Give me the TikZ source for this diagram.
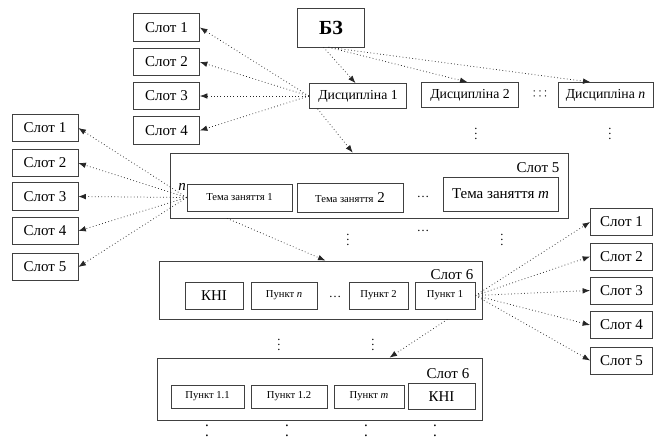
\documentclass[tikz,border=0pt]{standalone}
\usepackage{fontspec}
\setmainfont{Liberation Serif}
\usetikzlibrary{arrows.meta}

\begin{document}
\begin{tikzpicture}[x=0.8pt, y=-0.8pt,
    box/.style={draw=black!75, line width=0.6pt, inner sep=1pt, font=\fontsize{12}{14}\selectfont},
    slot/.style={box, minimum width=52.8pt, minimum height=22pt},
    disc/.style={box, minimum width=78pt, minimum height=20pt, font=\fontsize{11}{13}\selectfont},
    small/.style={font=\fontsize{8.5}{10}\selectfont},
    frame/.style={draw=black!75, line width=0.6pt},
    lbl/.style={inner sep=0pt, font=\fontsize{12}{14}\selectfont},
    colon/.style={inner sep=0pt, align=center, font=\fontsize{12}{14}\selectfont},
    arr/.style={draw=black!85, line width=0.6pt, dotted, -{Latex[length=6pt,width=4.5pt]}}]
    \useasboundingbox (0,0) rectangle (654,440);

    \node[slot] (s1) at (166.5,27.5) {Слот 1};
    \node[slot] (s2) at (166.5,62) {Слот 2};
    \node[slot] (s3) at (166.5,96) {Слот 3};
    \node[slot] (s4) at (166.5,130.5) {Слот 4};

    \node[box, minimum width=54pt, minimum height=31pt, font=\fontsize{16}{18}\selectfont\bfseries] (bz) at (331,27.5) {БЗ};
    \node[disc] (d1) at (358,96) {Дисципліна 1};
    \node[disc] (d2) at (470,95) {Дисципліна 2};
    \node[disc, minimum width=76pt] (dn) at (605.5,95) {Дисципліна \textit{n}};
    \node[align=center, inner sep=0pt] (dd) at (540,94) {$\cdots$\\[-8pt]$\cdots$};
    \node (v1) at (476,130) {$\vdots$};
    \node (v2) at (610,130) {$\vdots$};

    \node[frame, minimum width=318.4pt, minimum height=52pt] (f5) at (369,185.5) {};
    \node[lbl] (f5l) at (538,168) {Слот 5};
    \node[box, small, minimum width=84pt, minimum height=21.6pt] (t1) at (239.5,197.5) {Тема заняття 1};
    \node[box, minimum width=84.8pt, minimum height=23.2pt] (t2) at (350,197.5) {{\fontsize{8.5}{10}\selectfont Тема заняття} 2};
    \node (tt) at (423,197) {\ldots};
    \node[box, minimum width=92pt, minimum height=27pt] (tm) at (500.5,194) {Тема заняття \textit{m}};
    \node[lbl] (nn) at (182,187) {\textit{n}};

    \node[slot] (l1) at (45,128) {Слот 1};
    \node[slot] (l2) at (45,163) {Слот 2};
    \node[slot] (l3) at (45,196.5) {Слот 3};
    \node[slot] (l4) at (45,231) {Слот 4};
    \node[slot] (l5) at (45,267) {Слот 5};

    \node (v3) at (348,236) {$\vdots$};
    \node (tt2) at (423,231) {\ldots};
    \node (v4) at (502,236) {$\vdots$};

    \node[frame, minimum width=258.4pt, minimum height=46.4pt] (f6) at (320.5,290) {};
    \node[lbl] (f6l) at (452,275) {Слот 6};
    \node[box, minimum width=46.4pt, minimum height=21.6pt] (k1) at (214,295.5) {КНІ};
    \node[box, small, minimum width=52.8pt, minimum height=21.6pt] (pn) at (284,295.5) {Пункт \textit{n}};
    \node (tt3) at (335,297) {\ldots};
    \node[box, small, minimum width=47.2pt, minimum height=21.6pt] (p2) at (378.5,295.5) {Пункт 2};
    \node[box, small, minimum width=48pt, minimum height=21.6pt] (p1) at (445,295.5) {Пункт 1};

    \node (v5) at (279,341) {$\vdots$};
    \node (v6) at (373,341) {$\vdots$};

    \node[frame, minimum width=260pt, minimum height=49.6pt] (f7) at (319.5,389) {};
    \node[lbl] (f7l) at (448,374) {Слот 6};
    \node[box, small, minimum width=58.4pt, minimum height=18.4pt] (q1) at (207.5,396.5) {Пункт 1.1};
    \node[box, small, minimum width=60.8pt, minimum height=18.4pt] (q2) at (289,396.5) {Пункт 1.2};
    \node[box, small, minimum width=56pt, minimum height=18.4pt] (qm) at (369,396.5) {Пункт \textit{m}};
    \node[box, minimum width=53.6pt, minimum height=20.8pt] (k2) at (441.5,396.5) {КНІ};

    \node[colon] (c1) at (207,431) {.\\[-6pt].};
    \node[colon] (c2) at (287,431) {.\\[-6pt].};
    \node[colon] (c3) at (366,431) {.\\[-6pt].};
    \node[colon] (c4) at (435,431) {.\\[-6pt].};

    \node[slot, minimum width=49.6pt, minimum height=21.6pt] (r1) at (621.5,222) {Слот 1};
    \node[slot, minimum width=49.6pt, minimum height=21.6pt] (r2) at (621.5,256.5) {Слот 2};
    \node[slot, minimum width=49.6pt, minimum height=21.6pt] (r3) at (621.5,290.5) {Слот 3};
    \node[slot, minimum width=49.6pt, minimum height=21.6pt] (r4) at (621.5,325) {Слот 4};
    \node[slot, minimum width=49.6pt, minimum height=21.6pt] (r5) at (621.5,360.5) {Слот 5};

    \draw[arr] ([xshift=-6pt]bz.south) -- ([xshift=-2pt]d1.north);
    \draw[arr] ([xshift=-2pt]bz.south) -- ([xshift=-2pt]d2.north);
    \draw[arr] ([xshift=-2pt]bz.south) -- ([xshift=-12pt]dn.north);
    \draw[arr] (d1.west) -- (s1.east);
    \draw[arr] (d1.west) -- (s2.east);
    \draw[arr] (d1.west) -- (s3.east);
    \draw[arr] (d1.west) -- (s4.east);
    \draw[arr] ([xshift=7pt]d1.south west) -- ([xshift=-13pt]f5.north);
    \draw[arr] (t1.west) -- (l1.east);
    \draw[arr] (t1.west) -- (l2.east);
    \draw[arr] (t1.west) -- (l3.east);
    \draw[arr] (t1.west) -- (l4.east);
    \draw[arr] (t1.west) -- (l5.east);
    \draw[arr] ([xshift=46pt]f5.south west) -- ([xshift=4pt]f6.north);
    \draw[arr] (p1.east) -- (r1.west);
    \draw[arr] (p1.east) -- (r2.west);
    \draw[arr] (p1.east) -- (r3.west);
    \draw[arr] (p1.east) -- (r4.west);
    \draw[arr] (p1.east) -- (r5.west);
    \draw[arr] ([xshift=-28pt]f6.south east) -- ([xshift=56pt]f7.north);
\end{tikzpicture}
\end{document}
